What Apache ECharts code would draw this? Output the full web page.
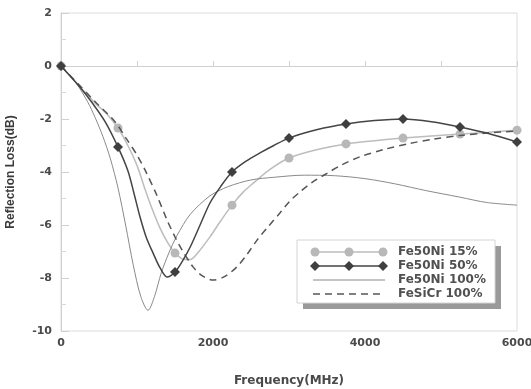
<!DOCTYPE html>
<html>
<head>
<meta charset="utf-8">
<script src="https://cdn.jsdelivr.net/npm/echarts@6/dist/echarts.min.js"></script>
<style>
  html, body { margin: 0; padding: 0; background: #fff; }
  #chart { width: 531px; height: 389px; }
</style>
</head>
<body>
<div id="chart"></div>
<script>
// frequencies (MHz) and reflection loss (dB)
var xTicks = [0, 2000, 4000, 6000];
var yTicks = [-10, -8, -6, -4, -2, 0, 2];
var markerFreq = [0, 750, 1500, 2250, 3000, 3750, 4500, 5250, 6000];

var freq15 = [0, 250, 450, 600, 750, 880, 1000, 1100, 1200, 1300, 1400, 1500, 1600, 1700, 1800, 1960, 2100, 2250, 2400, 2530, 2750, 3000, 3375, 3750, 4125, 4500, 4875, 5250, 5625, 6000];
var loss15 = [0, -0.78, -1.4, -1.8, -2.34, -3.0, -3.75, -4.6, -5.4, -6.1, -6.65, -7.06, -7.28, -7.3, -7.05, -6.45, -5.85, -5.25, -4.75, -4.42, -3.9, -3.47, -3.15, -2.94, -2.82, -2.72, -2.64, -2.57, -2.5, -2.42];

var freq50 = [0, 250, 400, 580, 750, 880, 960, 1040, 1120, 1210, 1300, 1395, 1500, 1600, 1700, 1830, 1960, 2100, 2250, 2430, 2618, 2800, 3000, 3375, 3750, 4125, 4500, 4875, 5250, 5625, 6000];
var loss50 = [0, -0.8, -1.35, -2.1, -3.06, -3.95, -4.8, -5.7, -6.45, -7.05, -7.6, -7.96, -7.77, -7.35, -6.83, -6.0, -5.17, -4.55, -4.0, -3.6, -3.28, -3.0, -2.72, -2.4, -2.19, -2.06, -2.0, -2.1, -2.3, -2.55, -2.87];

var freq100 = [0, 200, 350, 450, 550, 650, 750, 850, 950, 1050, 1145, 1230, 1320, 1420, 1526, 1700, 1960, 2200, 2500, 2800, 3200, 3600, 4000, 4400, 4800, 5250, 5600, 6000];
var loss100 = [0, -0.65, -1.35, -1.95, -2.65, -3.5, -4.6, -6.0, -7.5, -8.7, -9.22, -8.7, -7.8, -7.05, -6.4, -5.6, -4.9, -4.55, -4.3, -4.2, -4.12, -4.14, -4.25, -4.45, -4.7, -4.95, -5.15, -5.25];

var freqCr = [0, 250, 450, 710, 850, 1000, 1110, 1260, 1395, 1500, 1592, 1737, 1850, 2000, 2150, 2315, 2450, 2580, 2730, 2880, 3010, 3145, 3300, 3500, 3700, 3930, 4250, 4590, 4900, 5250, 5600, 6000];
var lossCr = [0, -0.75, -1.35, -2.1, -2.7, -3.36, -3.95, -4.87, -5.81, -6.45, -6.94, -7.58, -7.9, -8.08, -7.95, -7.58, -7.1, -6.57, -6.05, -5.55, -5.1, -4.75, -4.4, -4.05, -3.72, -3.43, -3.15, -2.92, -2.76, -2.62, -2.53, -2.45];

var seriesNames = ['Fe50Ni 15%', 'Fe50Ni 50%', 'Fe50Ni 100%', 'FeSiCr 100%'];

function pairs(xs, ys, sym) {
    return xs.map(function (f, i) {
        var show = sym && markerFreq.indexOf(f) >= 0;
        return { value: [f, ys[i]], symbol: show ? sym : 'none' };
    });
}

var tickFont = { fontFamily: 'DejaVu Sans', fontWeight: 'bold', fontSize: 11, color: '#4a4a4a' };

// hand-drawn legend box (three markers per line, like the original)
var lgX = 297, lgY = 240, lgW = 198, lgH = 63;
var rowY = [252, 266, 280, 294];
var markX = [315, 349, 383];
var legend = [
    { type: 'rect', shape: { x: lgX + 6, y: lgY + 6, width: lgW, height: lgH }, style: { fill: '#9a9a9a' }, z: 100 },
    { type: 'rect', shape: { x: lgX, y: lgY, width: lgW, height: lgH }, style: { fill: '#fff', stroke: '#d4d4d4', lineWidth: 1 }, z: 101 }
];
var lineStyles = [
    { stroke: '#bdbdbd', lineWidth: 1.5 },
    { stroke: '#444', lineWidth: 1.5 },
    { stroke: '#8a8a8a', lineWidth: 1 },
    { stroke: '#555', lineWidth: 1.5, lineDash: [7, 5] }
];
seriesNames.forEach(function (name, i) {
    legend.push({ type: 'line', shape: { x1: 313, y1: rowY[i], x2: 385, y2: rowY[i] }, style: lineStyles[i], z: 102 });
    markX.forEach(function (mx) {
        if (i === 0) {
            legend.push({ type: 'circle', shape: { cx: mx, cy: rowY[i], r: 4.5 }, style: { fill: '#b8b8b8' }, z: 103 });
        } else if (i === 1) {
            legend.push({ type: 'polygon', shape: { points: [[mx, rowY[i] - 5], [mx + 5, rowY[i]], [mx, rowY[i] + 5], [mx - 5, rowY[i]]] }, style: { fill: '#3f3f3f' }, z: 103 });
        }
    });
    legend.push({
        type: 'text', x: 398, y: rowY[i], z: 103,
        style: { text: name, font: 'bold 12px "DejaVu Sans"', fill: '#505050', textVerticalAlign: 'middle' }
    });
});

var chart = echarts.init(document.getElementById('chart'));
chart.setOption({
    animation: false,
    backgroundColor: '#fff',
    grid: {
        left: 61, right: 14, top: 13, bottom: 58, outerBoundsMode: 'none', containLabel: false,
        show: true, borderColor: '#dcdcdc', borderWidth: 1
    },
    xAxis: {
        type: 'value', min: xTicks[0], max: xTicks[xTicks.length - 1], interval: 2000,
        name: 'Frequency(MHz)', nameLocation: 'middle', nameGap: 44,
        nameTextStyle: { fontFamily: 'DejaVu Sans', fontWeight: 'bold', fontSize: 12, color: '#4a4a4a' },
        axisLine: { lineStyle: { color: '#d0d0d0' } },
        axisTick: { inside: true, length: 5, lineStyle: { color: '#d0d0d0' } },
        minorTick: { show: true, splitNumber: 2, length: 5, lineStyle: { color: '#d0d0d0' } },
        axisLabel: Object.assign({ margin: 7, formatter: function (v) { return String(v); } }, tickFont),
        splitLine: { show: false }
    },
    yAxis: {
        type: 'value', min: yTicks[0], max: yTicks[yTicks.length - 1], interval: 2,
        name: 'Reflection Loss(dB)', nameLocation: 'middle', nameGap: 44, nameRotate: 90,
        nameTextStyle: { fontFamily: 'Liberation Sans', fontWeight: 'bold', fontSize: 12, color: '#3a3a3a' },
        axisLine: { lineStyle: { color: '#d0d0d0' } },
        axisTick: { inside: true, length: 8, lineStyle: { color: '#d0d0d0' } },
        minorTick: { show: true, splitNumber: 2, length: 5, lineStyle: { color: '#d8d8d8' } },
        axisLabel: Object.assign({ margin: 9, formatter: function (v) { return String(v); } }, tickFont),
        splitLine: { show: false }
    },
    graphic: legend,
    series: [
        {
            name: seriesNames[0], type: 'line', smooth: 0.3, data: pairs(freq15, loss15, 'circle'),
            symbolSize: 9, lineStyle: { color: '#bdbdbd', width: 1.5 }, itemStyle: { color: '#b8b8b8' }, z: 2
        },
        {
            name: seriesNames[2], type: 'line', smooth: 0.3, data: pairs(freq100, loss100, null),
            showSymbol: false, lineStyle: { color: '#8a8a8a', width: 1 }, z: 3
        },
        {
            name: seriesNames[3], type: 'line', smooth: 0.3, data: pairs(freqCr, lossCr, null),
            showSymbol: false, lineStyle: { color: '#555', width: 1.5, type: [7, 5] }, z: 4
        },
        {
            name: seriesNames[1], type: 'line', smooth: 0.3, data: pairs(freq50, loss50, 'diamond'),
            symbolSize: 10, lineStyle: { color: '#444', width: 1.5 }, itemStyle: { color: '#3f3f3f' }, z: 5
        }
    ]
});
</script>
</body>
</html>
